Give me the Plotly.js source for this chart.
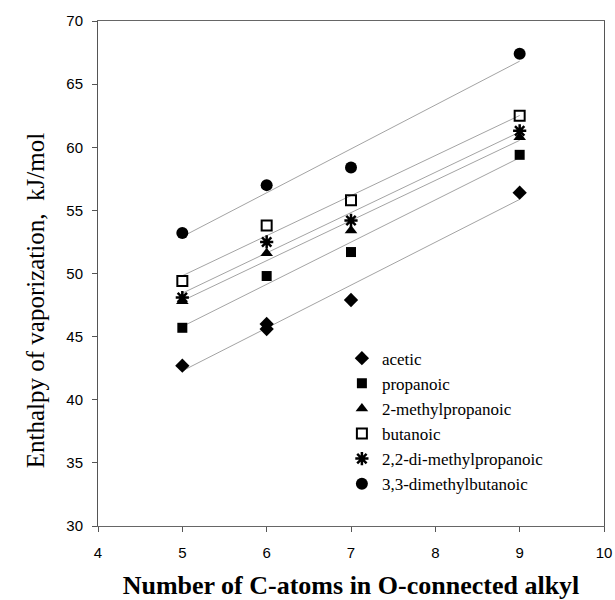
<!DOCTYPE html>
<html>
<head>
<meta charset="utf-8">
<script src="https://cdn.plot.ly/plotly-3.0.1.min.js"></script>
<style>html,body{margin:0;padding:0;background:#fff;}#chart{width:615px;height:600px;}</style>
</head>
<body>
<div id="chart"></div>
<script>
// Series names
const seriesNames = ["acetic", "propanoic", "2-methylpropanoic", "butanoic", "2,2-di-methylpropanoic", "3,3-dimethylbutanoic"];
// x values (number of C-atoms in O-connected alkyl)
const xAcetic = [5, 6, 6, 7, 9];
const xOthers = [5, 6, 7, 9];
// Enthalpy of vaporization, kJ/mol
const yAcetic = [42.7, 46.0, 45.6, 47.9, 56.4];
const yPropanoic = [45.7, 49.8, 51.7, 59.4];
const yMethylpropanoic = [47.8, 51.6, 53.4, 60.8];
const yButanoic = [49.4, 53.8, 55.8, 62.5];
const yDiMethylpropanoic = [48.1, 52.5, 54.2, 61.3];
const yDimethylbutanoic = [53.2, 57.0, 58.4, 67.4];
// Axis ticks
const xTicks = [4, 5, 6, 7, 8, 9, 10];
const yTicks = [30, 35, 40, 45, 50, 55, 60, 65, 70];

const xs = [xAcetic, xOthers, xOthers, xOthers, xOthers, xOthers];
const ys = [yAcetic, yPropanoic, yMethylpropanoic, yButanoic, yDiMethylpropanoic, yDimethylbutanoic];

const markerStyles = [
  {symbol: "diamond", size: 11, color: "#000"},
  {symbol: "square", size: 10, color: "#000"},
  {symbol: "triangle-up", size: 11, color: "#000"},
  {symbol: "square-open", size: 10, color: "#000", line: {color: "#000", width: 2}},
  {symbol: "asterisk-open", size: 11, color: "#000", line: {color: "#000", width: 2.5}},
  {symbol: "circle", size: 12, color: "#000"}
];

function linFit(x, y) {
  const n = x.length;
  const mx = x.reduce((a, b) => a + b, 0) / n;
  const my = y.reduce((a, b) => a + b, 0) / n;
  let sxy = 0, sxx = 0;
  for (let i = 0; i < n; i++) { sxy += (x[i] - mx) * (y[i] - my); sxx += (x[i] - mx) * (x[i] - mx); }
  const b = sxy / sxx;
  return {a: my - b * mx, b: b};
}

const traces = [];
// trend lines
for (let i = 0; i < seriesNames.length; i++) {
  const f = linFit(xs[i], ys[i]);
  const x0 = Math.min(...xs[i]), x1 = Math.max(...xs[i]);
  traces.push({
    x: [x0, x1], y: [f.a + f.b * x0, f.a + f.b * x1],
    mode: "lines", type: "scatter", showlegend: false, hoverinfo: "skip",
    line: {color: "#999999", width: 0.9}
  });
}
// markers
for (let i = 0; i < seriesNames.length; i++) {
  traces.push({
    x: xs[i], y: ys[i], name: seriesNames[i],
    mode: "markers", type: "scatter", marker: markerStyles[i]
  });
}

const serif = "Liberation Serif";
const layout = {
  width: 615, height: 600,
  margin: {l: 98, r: 11, t: 21, b: 74},
  paper_bgcolor: "#fff", plot_bgcolor: "#fff",
  font: {family: serif, color: "#000"},
  showlegend: true,
  legend: {
    x: 0.482, y: 0.367, xanchor: "left", yanchor: "top",
    bgcolor: "rgba(0,0,0,0)", borderwidth: 0,
    font: {family: serif, size: 17, color: "#000"},
    itemwidth: 30, tracegroupgap: 0
  },
  xaxis: {
    range: [4, 10], tickvals: xTicks, ticktext: xTicks.map(String),
    showgrid: false, zeroline: false,
    showline: true, linecolor: "#666", linewidth: 1, mirror: true,
    ticks: "outside", ticklen: 5, tickcolor: "#555", tickwidth: 1,
    ticklabelstandoff: 8,
    tickfont: {family: "Liberation Sans", size: 15, color: "#000"},
    title: {text: "Number of C-atoms in O-connected alkyl", standoff: 17,
      font: {family: serif, size: 26, color: "#000", weight: "bold"}}
  },
  yaxis: {
    range: [30, 70], tickvals: yTicks, ticktext: yTicks.map(String),
    showgrid: false, zeroline: false,
    showline: true, linecolor: "#555", linewidth: 1, mirror: true,
    ticks: "outside", ticklen: 5, tickcolor: "#555", tickwidth: 1,
    ticklabelstandoff: 6,
    tickfont: {family: "Liberation Sans", size: 15, color: "#000"}
  },
  annotations: [{
    text: "Enthalpy of vaporization,  kJ/mol",
    xref: "paper", yref: "paper", x: -0.1245, y: 0.445,
    xanchor: "center", yanchor: "middle", textangle: -90, showarrow: false,
    font: {family: serif, size: 25, color: "#000"}
  }]
};

Plotly.newPlot("chart", traces, layout, {displayModeBar: false, staticPlot: true});
</script>
</body>
</html>
